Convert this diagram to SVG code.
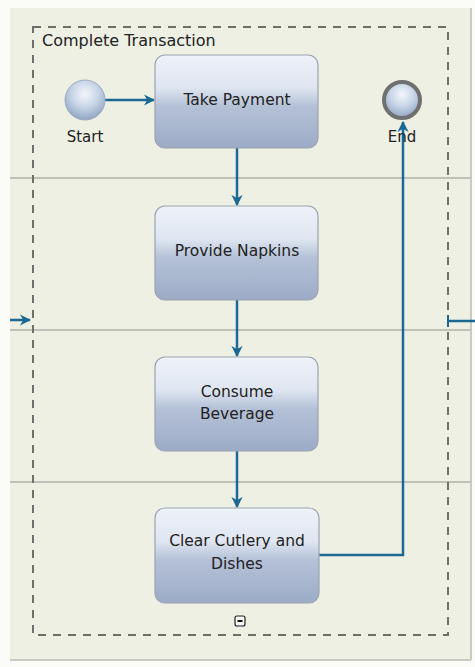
<svg xmlns="http://www.w3.org/2000/svg" width="475" height="667" viewBox="0 0 475 667">
<defs>
<linearGradient id="task" x1="0" y1="0" x2="0" y2="1">
<stop offset="0" stop-color="#eef2f9"/>
<stop offset="0.35" stop-color="#dfe6f1"/>
<stop offset="0.55" stop-color="#b4c1d7"/>
<stop offset="1" stop-color="#9cabc6"/>
</linearGradient>
<radialGradient id="ev" cx="0.5" cy="0.35" r="0.65">
<stop offset="0" stop-color="#f2f6fb"/>
<stop offset="0.5" stop-color="#c9d6e8"/>
<stop offset="1" stop-color="#8fa4c4"/>
</radialGradient>
<marker id="arr" viewBox="0 0 10 10" refX="9" refY="5" markerWidth="4.5" markerHeight="4.5" orient="auto">
<path d="M0,0 L10,5 L0,10 L3,5 z" fill="#1b6894"/>
</marker>
<style>
.lane{stroke:#bfc1b8;stroke-width:2;fill:none}
.task rect{fill:url(#task);stroke:#9aa3b0;stroke-width:1.2}
.task text,.lbl{font-family:"DejaVu Sans",Verdana,sans-serif;font-size:15.5px;fill:#222;text-anchor:middle}
.lbl{font-size:15px}
.conn{stroke:#1b6894;stroke-width:2.5;fill:none}
</style>
</defs>
<rect x="0" y="0" width="475" height="667" fill="#fbfbf8"/>
<rect x="10" y="8" width="462" height="652" fill="#eef0e4"/>
<line x1="471" y1="8" x2="471" y2="660" stroke="#c8cbc3" stroke-width="2"/>
<line x1="10" y1="660" x2="471" y2="660" stroke="#c8cbc3" stroke-width="2"/>
<g id="lanes">
<line class="lane" x1="10" y1="178" x2="471" y2="178"/>
<line class="lane" x1="10" y1="330" x2="471" y2="330"/>
<line class="lane" x1="10" y1="482" x2="471" y2="482"/>
</g>
<g id="subprocess">
<rect x="33" y="27" width="415" height="608" fill="none" stroke="#6e706c" stroke-width="2" stroke-dasharray="8,7"/>
<text x="42" y="46" font-family="'DejaVu Sans',Verdana,sans-serif" font-size="16" fill="#222">Complete Transaction</text>
<g id="collapse">
<rect x="235" y="616" width="10" height="10" rx="2" fill="#f4f4f0" stroke="#222" stroke-width="1.2"/>
<line x1="237.5" y1="621" x2="242.5" y2="621" stroke="#111" stroke-width="2"/>
</g>
</g>
<g id="connectors">
<line class="conn" x1="105" y1="100" x2="154" y2="100" marker-end="url(#arr)"/>
<line class="conn" x1="237" y1="148" x2="237" y2="205" marker-end="url(#arr)"/>
<line class="conn" x1="237" y1="300" x2="237" y2="356" marker-end="url(#arr)"/>
<line class="conn" x1="237" y1="451" x2="237" y2="507" marker-end="url(#arr)"/>
<polyline class="conn" points="319,555 403,555 403,122" marker-end="url(#arr)"/>
<line class="conn" x1="10" y1="320" x2="30" y2="320" marker-end="url(#arr)"/>
<line class="conn" x1="448" y1="321" x2="475" y2="321"/>
<line x1="448" y1="315" x2="448" y2="327" stroke="#1b6894" stroke-width="2"/>
</g>
<g id="start">
<circle cx="85" cy="100" r="20" fill="url(#ev)" stroke="#9eadc0" stroke-width="1"/>
<text class="lbl" x="85" y="142">Start</text>
</g>
<g id="end">
<circle cx="402" cy="100" r="18" fill="url(#ev)" stroke="#707070" stroke-width="4"/>
<text class="lbl" x="402" y="142">End</text>
</g>
<g id="take-payment" class="task">
<rect x="155" y="55" width="163" height="93" rx="10"/>
<text x="237" y="105">Take Payment</text>
</g>
<g id="provide-napkins" class="task">
<rect x="155" y="206" width="163" height="94" rx="10"/>
<text x="237" y="256">Provide Napkins</text>
</g>
<g id="consume-beverage" class="task">
<rect x="155" y="357" width="163" height="94" rx="10"/>
<text x="237" y="397">Consume</text>
<text x="237" y="419">Beverage</text>
</g>
<g id="clear-cutlery" class="task">
<rect x="155" y="508" width="164" height="95" rx="10"/>
<text x="237" y="546">Clear Cutlery and</text>
<text x="237" y="569">Dishes</text>
</g>
</svg>
